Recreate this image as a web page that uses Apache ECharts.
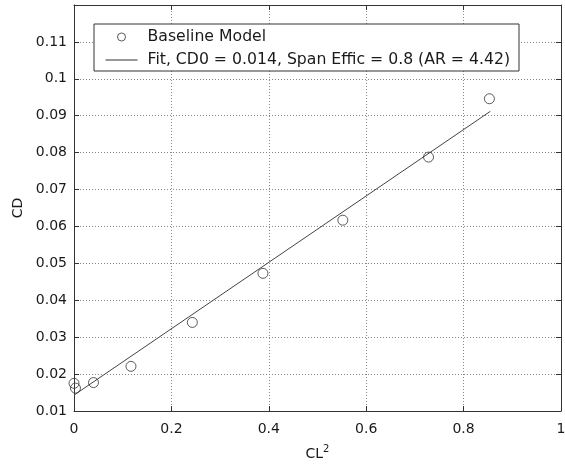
<!DOCTYPE html>
<html><head><meta charset="utf-8">
<script src="https://cdn.jsdelivr.net/npm/echarts@6/dist/echarts.min.js"></script>
<style>html,body{margin:0;padding:0;background:#fff}#c{width:565px;height:464px}</style>
</head><body><div id="c"></div>
<script>
const clSquared = [0.0, 0.003, 0.04, 0.117, 0.243, 0.388, 0.552, 0.728, 0.853];
const cdValues  = [0.0175, 0.0162, 0.0177, 0.0221, 0.034, 0.0473, 0.0617, 0.0788, 0.0946];
const fitX = [0.0, 0.855];
const fitY = [0.0143, 0.0912];
const xTicks = [0, 0.2, 0.4, 0.6, 0.8, 1];
const seriesNames = ['Baseline Model', 'Fit, CD0 = 0.014, Span Effic = 0.8 (AR = 4.42)'];

const FONT = 'DejaVu Sans';
const TXT = '#1a1a1a';
const chart = echarts.init(document.getElementById('c'), null, {renderer: 'canvas'});
const grid = {left: 74, right: 4, top: 5, bottom: 53, outerBoundsMode: 'none', containLabel: false};
const fmtY = v => (v > 0.1195 ? '' : String(parseFloat(v.toFixed(3))));
const fmtX = v => String(parseFloat(v.toFixed(2)));
const splitLine = {show: true, lineStyle: {color: '#888', type: [1, 2], width: 1}};
const axisLine = {show: true, onZero: false, lineStyle: {color: '#333', width: 1}};
const axisTick = {show: true, inside: true, length: 5, lineStyle: {color: '#333'}};

chart.setOption({
  animation: false,
  backgroundColor: '#fff',
  grid: grid,
  legend: {
    left: 94, top: 24, orient: 'vertical',
    backgroundColor: '#fff',
    borderColor: '#333', borderWidth: 1,
    padding: [4, 9, 2, 11],
    itemGap: 5,
    itemWidth: 32, itemHeight: 8,
    textStyle: {fontFamily: FONT, fontSize: 15.7, lineHeight: 18, color: TXT, padding: [0, 0, 0, 5]},
    data: [
      {name: seriesNames[0], itemStyle: {color: 'rgba(255,255,255,0)', borderColor: '#333', borderWidth: 1}},
      {name: seriesNames[1], itemStyle: {opacity: 0}, lineStyle: {color: '#333', width: 1}}
    ]
  },
  xAxis: [{
    type: 'value', min: 0, max: 1, interval: 0.2,
    axisLine: axisLine, axisTick: axisTick, splitLine: splitLine,
    axisLabel: {formatter: fmtX, fontFamily: FONT, fontSize: 14, color: TXT, margin: 11},
    name: 'CL{sup|2}', nameLocation: 'middle', nameGap: 33,
    nameTextStyle: {fontFamily: FONT, fontSize: 14, color: TXT,
      rich: {sup: {fontSize: 10, verticalAlign: 'top', padding: [0, 0, 10, 0], fontFamily: FONT, color: TXT}}}
  }, {
    type: 'value', position: 'top', min: 0, max: 1, interval: 0.2,
    axisLine: axisLine, axisTick: axisTick, splitLine: {show: false}, axisLabel: {show: false}
  }],
  yAxis: [{
    type: 'value', min: 0.01, max: 0.12, interval: 0.01,
    axisLine: axisLine, axisTick: axisTick, splitLine: splitLine,
    axisLabel: {formatter: fmtY, fontFamily: FONT, fontSize: 14, color: TXT, margin: 7},
    name: 'CD', nameLocation: 'middle', nameGap: 43, nameRotate: 90,
    nameTextStyle: {fontFamily: FONT, fontSize: 14, color: TXT}
  }, {
    type: 'value', position: 'right', min: 0.01, max: 0.12, interval: 0.01,
    axisLine: axisLine, axisTick: axisTick, splitLine: {show: false}, axisLabel: {show: false}
  }],
  series: [{
    name: seriesNames[0], type: 'scatter',
    data: clSquared.map((x, i) => [x, cdValues[i]]),
    symbol: 'circle', symbolSize: 10,
    itemStyle: {color: 'rgba(255,255,255,0)', borderColor: '#333', borderWidth: 1},
    z: 3
  }, {
    name: seriesNames[1], type: 'line',
    data: fitX.map((x, i) => [x, fitY[i]]),
    showSymbol: false, symbol: 'none',
    itemStyle: {color: '#444'},
    lineStyle: {color: '#444', width: 1},
    z: 2
  }]
});
</script></body></html>
